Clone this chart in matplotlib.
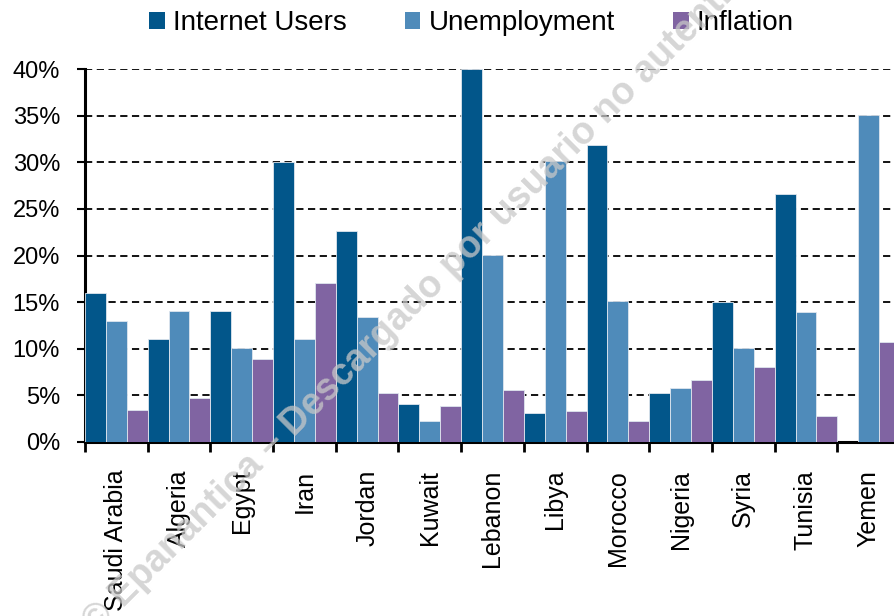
import numpy as np
import matplotlib.pyplot as plt
from matplotlib.patches import Patch

plt.rcParams['font.family'] = ['Liberation Sans', 'DejaVu Sans']

countries = ['Saudi Arabia', 'Algeria', 'Egypt', 'Iran', 'Jordan', 'Kuwait',
             'Lebanon', 'Libya', 'Morocco', 'Nigeria', 'Syria', 'Tunisia', 'Yemen']
internet_users = [16.0, 11.0, 14.1, 30.0, 22.6, 4.1, 40.0, 3.1, 31.8, 5.3, 15.0, 26.6, 0.0]
unemployment = [13.0, 14.1, 10.1, 11.0, 13.4, 2.2, 20.1, 30.1, 15.1, 5.8, 10.1, 13.9, 35.1]
inflation = [3.4, 4.7, 8.9, 17.0, 5.3, 3.9, 5.6, 3.3, 2.2, 6.6, 8.0, 2.8, 10.7]

series = [('Internet Users', internet_users, '#02568a'),
          ('Unemployment', unemployment, '#4f8bba'),
          ('Inflation', inflation, '#8064a2')]

fig = plt.figure(figsize=(8.95, 6.16), dpi=100)
# right edge sits just past the figure, the original is cropped there
ax = fig.add_axes([85/895, 1-442/616, 815/895, 373/616])

x = np.arange(len(countries))
w = 1/3
for i, (name, vals, col) in enumerate(series):
    ax.bar(x - 0.5 + w*(i + 0.5), np.array(vals)/100, width=w, color=col,
           edgecolor='#dfe6ee', linewidth=0.6, label=name, zorder=3)

ax.set_xlim(-0.5, len(countries) - 0.5)
ax.set_ylim(0, 0.40)
ax.set_yticks(np.arange(0, 0.41, 0.05))
ax.set_yticklabels([f'{int(round(v*100))}%' for v in np.arange(0, 0.41, 0.05)], fontsize=17)
ax.yaxis.grid(True, linestyle=(0, (4, 2.5)), color='black', linewidth=1.3, zorder=1)
ax.tick_params(axis='y', length=6, width=1.5, pad=12)

ax.set_xticks(x)
ax.set_xticklabels(countries, rotation=90, fontsize=18, va='top')
ax.set_xticks(np.arange(-0.5, len(countries)), minor=True)
ax.tick_params(axis='x', which='major', length=0, pad=20)
ax.tick_params(axis='x', which='minor', length=7, width=2)

for s in ['top', 'right']:
    ax.spines[s].set_visible(False)
ax.spines['left'].set_linewidth(2.2)
ax.spines['bottom'].set_linewidth(2.2)

handles = [Patch(facecolor=c, label=n) for n, _, c in series]
fig.legend(handles=handles, loc='center', bbox_to_anchor=(0.527, 0.962), ncol=3,
           frameon=False, fontsize=20, handlelength=0.55, handleheight=0.55,
           handletextpad=0.3, columnspacing=2.1)

# faint watermark across the chart
fig.text(0.49, 0.548, '© Epanantica – Descargado por usuario no autenticado',
         rotation=45, rotation_mode='anchor', ha='center', va='center',
         fontsize=27, fontweight='bold', color='#c8c8c8', alpha=0.75, zorder=10)

fig.savefig('out.png', dpi=100)
